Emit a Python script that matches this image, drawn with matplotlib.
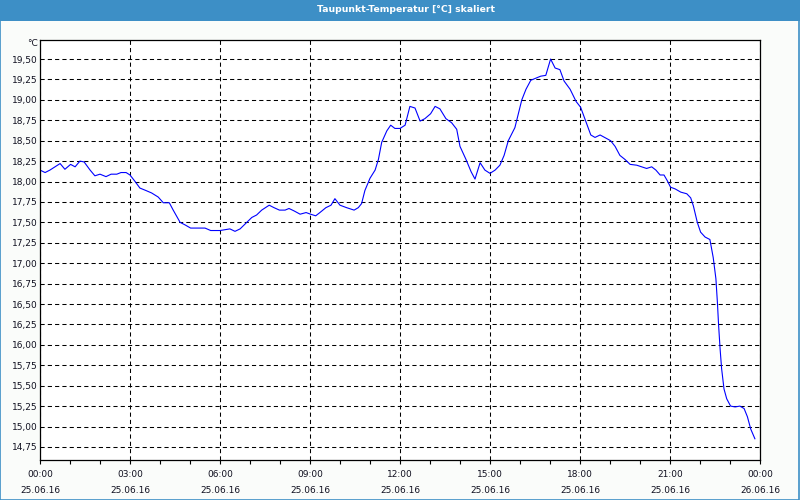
import matplotlib
matplotlib.use('Agg')
import matplotlib.pyplot as plt
from matplotlib.patches import Rectangle
from matplotlib.ticker import FixedLocator, MultipleLocator

# ── Data (dew point, hours since 25.06.16 00:00) ────────────────────────────
hours = [0.00, 0.17, 0.33, 0.50, 0.67, 0.83, 1.02, 1.17, 1.33, 1.47, 1.67, 1.83,
         2.00, 2.20, 2.37, 2.56, 2.70, 2.87, 3.00, 3.17, 3.33, 3.53, 3.72, 3.94,
         4.11, 4.31, 4.44, 4.67, 4.83, 5.02, 5.22, 5.50, 5.69, 6.00, 6.33, 6.50,
         6.67, 6.89, 7.06, 7.22, 7.39, 7.64, 7.80, 7.98, 8.17, 8.30, 8.47, 8.67,
         8.87, 9.02, 9.19, 9.33, 9.53, 9.70, 9.83, 10.00, 10.22, 10.47, 10.61, 10.72,
         10.83, 11.00, 11.17, 11.28, 11.39, 11.56, 11.69, 11.83, 12.00, 12.17, 12.33, 12.50,
         12.67, 12.83, 13.02, 13.17, 13.33, 13.53, 13.72, 13.89, 14.00, 14.20, 14.37, 14.50,
         14.67, 14.83, 15.00, 15.17, 15.33, 15.47, 15.61, 15.83, 16.06, 16.20, 16.36, 16.56,
         16.69, 16.86, 17.02, 17.17, 17.33, 17.47, 17.67, 17.87, 18.02, 18.20, 18.36, 18.50,
         18.67, 18.87, 19.02, 19.17, 19.33, 19.50, 19.67, 19.89, 20.06, 20.22, 20.39, 20.53,
         20.67, 20.80, 20.91, 21.02, 21.17, 21.36, 21.56, 21.69, 21.78, 21.91, 22.02, 22.17,
         22.33, 22.44, 22.53, 22.58, 22.62, 22.67, 22.72, 22.80, 22.89, 23.02, 23.17, 23.33,
         23.47, 23.58, 23.69, 23.83]
dewpoint = [18.14, 18.11, 18.14, 18.18, 18.22, 18.15, 18.21, 18.18, 18.25, 18.24, 18.14, 18.07,
            18.09, 18.06, 18.09, 18.09, 18.11, 18.11, 18.08, 18.00, 17.92, 17.89, 17.86, 17.81,
            17.74, 17.74, 17.65, 17.50, 17.47, 17.43, 17.43, 17.43, 17.40, 17.40, 17.42, 17.39,
            17.42, 17.50, 17.56, 17.59, 17.65, 17.71, 17.68, 17.65, 17.65, 17.67, 17.64, 17.60,
            17.62, 17.60, 17.58, 17.62, 17.68, 17.71, 17.79, 17.71, 17.68, 17.65, 17.68, 17.73,
            17.89, 18.04, 18.14, 18.27, 18.48, 18.62, 18.69, 18.65, 18.65, 18.69, 18.92, 18.90,
            18.74, 18.77, 18.83, 18.92, 18.89, 18.77, 18.72, 18.64, 18.43, 18.27, 18.12, 18.03,
            18.23, 18.14, 18.10, 18.14, 18.20, 18.32, 18.50, 18.66, 19.00, 19.13, 19.24, 19.27,
            19.29, 19.30, 19.50, 19.39, 19.37, 19.23, 19.13, 18.98, 18.91, 18.73, 18.57, 18.54,
            18.57, 18.53, 18.50, 18.43, 18.32, 18.27, 18.21, 18.20, 18.18, 18.16, 18.18, 18.14,
            18.08, 18.08, 18.01, 17.93, 17.91, 17.87, 17.85, 17.80, 17.70, 17.50, 17.38, 17.32,
            17.29, 17.07, 16.81, 16.52, 16.24, 15.95, 15.71, 15.46, 15.34, 15.25, 15.24, 15.25,
            15.22, 15.12, 14.97, 14.85]

x_ticks = [0, 3, 6, 9, 12, 15, 18, 21, 24]
x_labels = ["00:00\n25.06.16", "03:00\n25.06.16", "06:00\n25.06.16", "09:00\n25.06.16",
            "12:00\n25.06.16", "15:00\n25.06.16", "18:00\n25.06.16", "21:00\n25.06.16",
            "00:00\n26.06.16"]
y_ticks = [14.75, 15.00, 15.25, 15.50, 15.75, 16.00, 16.25, 16.50, 16.75, 17.00,
           17.25, 17.50, 17.75, 18.00, 18.25, 18.50, 18.75, 19.00, 19.25, 19.50]

TITLE = "Taupunkt-Temperatur [°C] skaliert"
BAR_BLUE = "#3d8fc6"
TEXT_COL = "#101020"

plt.rcParams.update({'font.family': 'DejaVu Sans', 'font.size': 6.5})

fig = plt.figure(figsize=(8, 5), dpi=100, facecolor="#fafcfa")

# ── Window frame and title bar ──────────────────────────────────────────────
fig.patches.append(Rectangle((0.0005, 0.001), 0.998, 0.99, transform=fig.transFigure,
                             fill=False, edgecolor=BAR_BLUE, lw=1.2, zorder=0))
fig.patches.append(Rectangle((0, 0.958), 1, 0.042, transform=fig.transFigure,
                             facecolor=BAR_BLUE, edgecolor="none", zorder=1))
fig.text(0.508, 0.980, TITLE, color="white", ha="center", va="center",
         fontsize=6.7, fontweight="bold")

# ── Plot area ───────────────────────────────────────────────────────────────
ax = fig.add_axes([0.05, 0.08, 0.90, 0.84])
ax.set_facecolor("white")
ax.plot(hours, dewpoint, color="#0000ff", lw=0.8)

ax.set_xlim(0, 24)
ax.set_ylim(14.59, 19.733)

ax.xaxis.set_major_locator(FixedLocator(x_ticks))
ax.set_xticklabels(x_labels, linespacing=2.0, color=TEXT_COL)
ax.xaxis.set_minor_locator(MultipleLocator(1))
ax.tick_params(axis="x", which="both", direction="out", length=3, width=0.8,
               pad=4, color="black")

ax.yaxis.set_major_locator(FixedLocator(y_ticks))
ax.set_yticklabels([f"{v:.2f}".replace(".", ",") for v in y_ticks], color=TEXT_COL)
ax.tick_params(axis="y", length=0, pad=2)

ax.grid(True, which="major", color="black", linestyle=(0, (4, 3)), lw=0.75)
for s in ax.spines.values():
    s.set_color("black")
    s.set_linewidth(0.9)

fig.text(38 / 800, 1 - 44 / 500, "°C", ha="right", va="center", color=TEXT_COL,
         fontsize=6.5)

fig.savefig("out.png", dpi=100, facecolor=fig.get_facecolor())
